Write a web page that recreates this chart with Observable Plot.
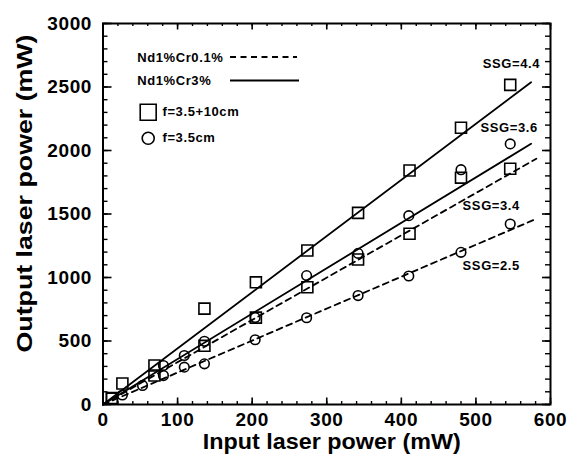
<!DOCTYPE html>
<html><head><meta charset="utf-8">
<script src="https://cdn.jsdelivr.net/npm/d3@7"></script>
<script src="https://cdn.jsdelivr.net/npm/@observablehq/plot@0.6"></script>
<style>body{margin:0;background:#fff} svg{display:block}</style>
</head><body><div id="chart"></div>
<script>
// ---- data ----
// Nd1%Cr3%, f=3.5+10cm (squares)
const cr3SqX = [12, 26, 69, 136, 205, 274, 342, 411, 480, 546];
const cr3SqY = [50, 165, 307, 755, 962, 1213, 1509, 1843, 2179, 2517];
// Nd1%Cr0.1%, f=3.5+10cm (squares)
const cr01SqX = [12, 69, 136, 205, 274, 342, 411, 480, 546];
const cr01SqY = [45, 228, 462, 684, 923, 1142, 1344, 1786, 1856];
// Nd1%Cr3%, f=3.5cm (circles)
const cr3CiX = [26, 53, 81, 109, 136, 204, 273, 342, 410, 480, 546];
const cr3CiY = [75, 150, 307, 386, 498, 685, 1015, 1190, 1487, 1849, 2052];
// Nd1%Cr0.1%, f=3.5cm (circles)
const cr01CiX = [81, 109, 136, 204, 273, 342, 410, 480, 546];
const cr01CiY = [228, 294, 320, 510, 683, 858, 1012, 1198, 1421];

// fitted lines (start at origin), end points
const fitNames = ["SSG=4.4", "SSG=3.6", "SSG=3.4", "SSG=2.5"];
const fitDashed = [false, false, true, true];
const fitEndX = [574, 574, 581, 581];
const fitEndY = [2538, 2053, 1935, 1462];

// slope annotations (anchored at their right end, data units)
const ssgText = ["SSG=4.4", "SSG=3.6", "SSG=3.4", "SSG=2.5"];
const ssgX = [586, 583, 559, 559];
const ssgY = [2681, 2177, 1565, 1092];

const xTicks = [0, 100, 200, 300, 400, 500, 600];
const yTicks = [0, 500, 1000, 1500, 2000, 2500, 3000];
const xMinor = d3.range(0, 601, 20);
const yMinor = d3.range(0, 3001, 100);

const legendLines = ["Nd1%Cr0.1%", "Nd1%Cr3%"];
const legendShapes = ["f=3.5+10cm", "f=3.5cm"];
const xTitle = "Input laser power (mW)";
const yTitle = "Output laser power (mW)";

// ---- build tables ----
const pts = (xs, ys) => xs.map((x, i) => ({x, y: ys[i]}));
const squares = [...pts(cr3SqX, cr3SqY), ...pts(cr01SqX, cr01SqY)];
const circles = [...pts(cr3CiX, cr3CiY), ...pts(cr01CiX, cr01CiY)];
const fitRows = fitNames.flatMap((k, i) => [
  {k, dashed: fitDashed[i], x: 0, y: 0},
  {k, dashed: fitDashed[i], x: fitEndX[i], y: fitEndY[i]}
]);
const ssg = ssgText.map((t, i) => ({t, x: ssgX[i], y: ssgY[i]}));

const W = 574, H = 458, mL = 102.5, mR = 24, mT = 23, mB = 54;
const fw = W - mL - mR, fh = H - mT - mB;
const ink = "black";
const legendText = {frameAnchor: "top-left", textAnchor: "start", lineAnchor: "middle", fontSize: 13, fontWeight: "bold", fill: ink};

const chart = Plot.plot({
  width: W, height: H,
  marginLeft: mL, marginRight: mR, marginTop: mT, marginBottom: mB,
  x: {domain: [0, 600]},
  y: {domain: [0, 3000]},
  style: {fontFamily: "'Liberation Sans', Arial, Helvetica, sans-serif", fontWeight: "bold", color: ink, background: "white", letterSpacing: "0.6px"},
  marks: [
    // fitted lines
    Plot.line(fitRows.filter(d => !d.dashed), {x: "x", y: "y", z: "k", stroke: ink, strokeWidth: 1.8}),
    Plot.line(fitRows.filter(d => d.dashed), {x: "x", y: "y", z: "k", stroke: ink, strokeWidth: 1.8, strokeDasharray: "6,4.5"}),
    // data
    Plot.dot(squares, {x: "x", y: "y", symbol: "square", r: 6.2, stroke: ink, strokeWidth: 1.6, fill: "none"}),
    Plot.dot(circles, {x: "x", y: "y", symbol: "circle", r: 4.8, stroke: ink, strokeWidth: 1.6, fill: "none"}),
    // inward ticks
    Plot.tickX(xMinor, {x: d => d, insetTop: fh - 3, stroke: ink, strokeWidth: 1.4}),
    Plot.tickX(xTicks, {x: d => d, insetTop: fh - 6.5, stroke: ink, strokeWidth: 1.6}),
    Plot.tickX(xMinor, {x: d => d, insetBottom: fh - 3, stroke: ink, strokeWidth: 1.4}),
    Plot.tickX(xTicks, {x: d => d, insetBottom: fh - 6.5, stroke: ink, strokeWidth: 1.6}),
    Plot.tickY(yMinor, {y: d => d, insetRight: fw - 5, stroke: ink, strokeWidth: 1.4}),
    Plot.tickY(yTicks, {y: d => d, insetRight: fw - 9, stroke: ink, strokeWidth: 1.6}),
    Plot.tickY(yMinor, {y: d => d, insetLeft: fw - 5, stroke: ink, strokeWidth: 1.4}),
    Plot.tickY(yTicks, {y: d => d, insetLeft: fw - 8, stroke: ink, strokeWidth: 1.6}),
    Plot.frame({stroke: ink, strokeWidth: 2}),
    // axes labels
    Plot.axisX(xTicks, {tickSize: 0, tickPadding: 8, fontSize: 19, fontWeight: "bold", tickFormat: d => String(d), label: null}),
    Plot.axisY(yTicks, {tickSize: 0, tickPadding: 11, fontSize: 19, fontWeight: "bold", tickFormat: d => String(d), label: null}),
    Plot.text([xTitle], {text: d => d, frameAnchor: "bottom", textAnchor: "middle", dx: 5, dy: 37, lineAnchor: "middle", fontSize: 22, fontWeight: "bold", fill: ink}),
    Plot.text([yTitle], {text: d => d, frameAnchor: "left", textAnchor: "middle", dx: -78.5, dy: -20.5, rotate: -90, lineAnchor: "middle", fontSize: 22, fontWeight: "bold", fill: ink}),
    // slope annotations
    Plot.text(ssg, {x: "x", y: "y", text: "t", textAnchor: "end", lineAnchor: "middle", fontSize: 13, fontWeight: "bold", fill: ink}),
    // legend
    Plot.text([legendLines[0]], {...legendText, text: d => d, dx: 34.2, dy: 34}),
    Plot.text([legendLines[1]], {...legendText, text: d => d, dx: 34.2, dy: 57.5}),
    Plot.text([legendShapes[0]], {...legendText, text: d => d, dx: 59.5, dy: 88.5}),
    Plot.text([legendShapes[1]], {...legendText, text: d => d, dx: 59.5, dy: 114.7}),
    Plot.dot([legendShapes[0]], {frameAnchor: "top-left", dx: 45.2, dy: 88.7, symbol: "square", r: 9, stroke: ink, strokeWidth: 1.6, fill: "none"}),
    Plot.dot([legendShapes[1]], {frameAnchor: "top-left", dx: 45.2, dy: 114.7, symbol: "circle", r: 6, stroke: ink, strokeWidth: 1.6, fill: "none"})
  ]
});

document.getElementById("chart").appendChild(chart);

// legend sample lines
const svg = d3.select(chart);
svg.append("line").attr("x1", 230).attr("x2", 297).attr("y1", 57).attr("y2", 57)
  .attr("stroke", ink).attr("stroke-width", 1.8).attr("stroke-dasharray", "6,4.5");
svg.append("line").attr("x1", 230).attr("x2", 299).attr("y1", 80.5).attr("y2", 80.5)
  .attr("stroke", ink).attr("stroke-width", 1.8);

// stretch axis titles to the reference's width
svg.selectAll("text").filter(function() { return this.textContent === xTitle; })
  .attr("textLength", 258).attr("lengthAdjust", "spacingAndGlyphs").style("letter-spacing", "0px");
svg.selectAll("text").filter(function() { return this.textContent === yTitle; })
  .attr("textLength", 318).attr("lengthAdjust", "spacingAndGlyphs").style("letter-spacing", "0px");
</script></body></html>
